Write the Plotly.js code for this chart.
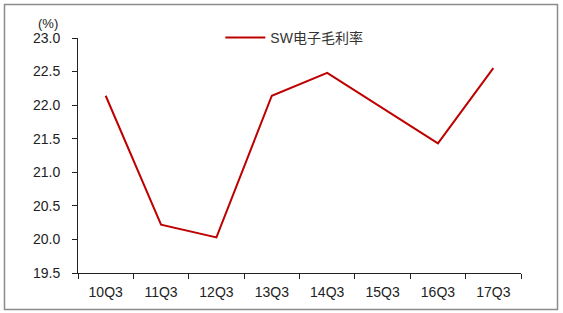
<!DOCTYPE html>
<html>
<head>
<meta charset="utf-8">
<script src="https://cdn.plot.ly/plotly-3.0.1.min.js"></script>
<style>
html,body{margin:0;padding:0;background:#fff;}
#chart{width:563px;height:313px;}
</style>
</head>
<body>
<div id="chart"></div>
<script>
const categories = ["10Q3","11Q3","12Q3","13Q3","14Q3","15Q3","16Q3","17Q3"];
const grossMargin = [22.14, 20.22, 20.03, 22.14, 22.48, 21.96, 21.43, 22.55];
const seriesName = "SW电子毛利率";
const yTicks = [19.5, 20.0, 20.5, 21.0, 21.5, 22.0, 22.5, 23.0];

const FONT = "Liberation Sans, Arial, Noto Sans CJK SC, sans-serif";

const trace = {
  x: categories,
  y: grossMargin,
  type: "scatter",
  mode: "lines",
  name: seriesName,
  line: {color: "#BE0000", width: 2}
};

const layout = {
  width: 563,
  height: 313,
  margin: {l: 78, r: 42, t: 38, b: 40},
  paper_bgcolor: "#ffffff",
  plot_bgcolor: "#ffffff",
  font: {family: FONT, size: 14, color: "#222"},
  showlegend: true,
  legend: {
    orientation: "h",
    x: 0.3213, xanchor: "left",
    y: 1.0, yanchor: "middle",
    itemwidth: 40,
    font: {family: FONT, size: 14, color: "#333"},
    bgcolor: "rgba(0,0,0,0)"
  },
  xaxis: {
    type: "category",
    range: [-0.5, categories.length - 0.5],
    showline: true, linecolor: "#222", linewidth: 1,
    ticks: "outside", ticklen: 5, tickcolor: "#222",
    tickson: "boundaries",
    ticklabelstandoff: 6,
    showgrid: false, zeroline: false,
    tickfont: {family: FONT, size: 14, color: "#222"}
  },
  yaxis: {
    range: [19.5, 23.0],
    tickvals: yTicks,
    ticktext: yTicks.map(v => v.toFixed(1)),
    showline: true, linecolor: "#222", linewidth: 1,
    ticks: "outside", ticklen: 5, tickcolor: "#222",
    ticklabelstandoff: 9,
    showgrid: false, zeroline: false,
    tickfont: {family: FONT, size: 14, color: "#222"}
  },
  annotations: [{
    text: "(%)", xref: "paper", yref: "paper",
    x: (48-78)/443, y: (273-24)/235, xanchor: "center", yanchor: "middle",
    showarrow: false, font: {family: FONT, size: 13, color: "#222"}
  }],
  shapes: [{
    type: "rect", xref: "paper", yref: "paper",
    x0: (4.5-78)/443, x1: (557.5-78)/443,
    y0: (273-309.5)/235, y1: (273-4.5)/235,
    line: {color: "#8c8c8c", width: 1.5}, fillcolor: "rgba(0,0,0,0)", layer: "below"
  }]
};

Plotly.newPlot("chart", [trace], layout, {displayModeBar: false, staticPlot: true});
</script>
</body>
</html>
